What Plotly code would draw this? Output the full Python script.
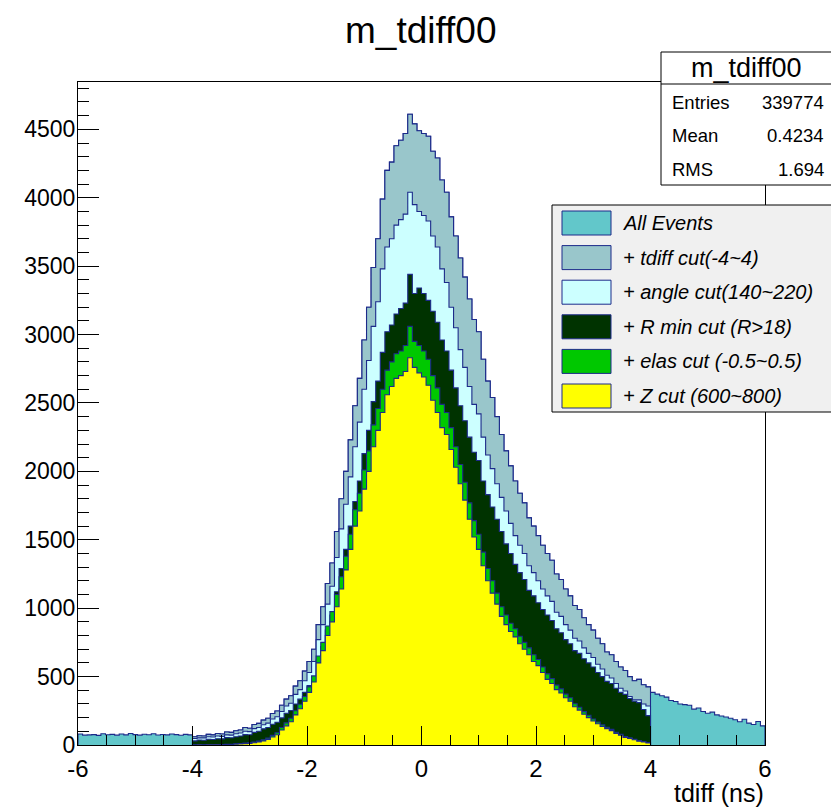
import numpy as np
import plotly.graph_objects as go

# ---------------- data (counts per bin, bin width 0.08 ns) ----------------
bin_width = 0.08
x_min, x_max = -6.0, 6.0
cut_min, cut_max = -4.0, 4.0

# "All Events" outside the tdiff window
all_events_left = [80, 72, 74, 76, 70, 82, 75, 78, 72, 80, 74, 84, 76, 72, 79,
                   75, 82, 73, 77, 74, 80, 76, 71, 78, 74]
all_events_right = [385, 372, 360, 350, 325, 318, 300, 295, 290, 262, 270, 245,
                    232, 240, 220, 212, 205, 196, 185, 170, 188, 160, 150, 172, 140]

# + tdiff cut (-4~4)
tdiff_cut = [60, 68, 66, 78, 74, 84, 80, 95, 92, 104, 110, 128, 122, 150, 158,
             182, 196, 230, 248, 290, 335, 360, 430, 470, 540, 610, 700, 880,
             1010, 1180, 1330, 1560, 1800, 2000, 2230, 2480, 2680, 2960, 3200,
             3490, 3700, 3990, 4200, 4260, 4380, 4420, 4470, 4610, 4540, 4490,
             4470, 4450, 4340, 4290, 4130, 4040, 3860, 3720, 3560, 3420, 3260,
             3110, 3020, 2820, 2660, 2540, 2400, 2270, 2150, 2040, 1930, 1840,
             1770, 1660, 1600, 1530, 1460, 1400, 1350, 1250, 1210, 1140, 1090,
             1020, 990, 930, 880, 840, 780, 740, 680, 660, 610, 570, 545, 500,
             470, 480, 440, 425]

# + angle cut (140~220)
angle_cut = [47, 52, 52, 60, 58, 66, 63, 74, 72, 82, 88, 100, 98, 120, 128, 148,
             160, 190, 206, 245, 285, 305, 370, 405, 470, 530, 610, 770, 880,
             1030, 1160, 1370, 1580, 1760, 1960, 2180, 2360, 2600, 2810, 3060,
             3240, 3480, 3640, 3700, 3800, 3840, 3880, 4040, 3950, 3900, 3870,
             3830, 3720, 3640, 3480, 3380, 3200, 3050, 2890, 2760, 2620, 2490,
             2420, 2250, 2120, 2020, 1910, 1810, 1710, 1620, 1530, 1460, 1400,
             1310, 1260, 1200, 1140, 1090, 1050, 970, 940, 880, 840, 780, 760,
             710, 670, 640, 590, 555, 510, 490, 450, 415, 395, 355, 330, 330,
             300, 285]

# + R min cut (R>18)
rmin_cut = [30, 36, 35, 42, 40, 46, 45, 54, 53, 60, 66, 76, 75, 92, 100, 118,
            128, 152, 166, 198, 232, 252, 300, 335, 385, 435, 500, 620, 720,
            840, 950, 1120, 1290, 1430, 1600, 1780, 1930, 2130, 2300, 2510,
            2660, 2870, 3020, 3070, 3150, 3190, 3230, 3440, 3300, 3340, 3300,
            3250, 3170, 3090, 2960, 2880, 2740, 2610, 2480, 2370, 2250, 2140,
            2080, 1930, 1830, 1740, 1650, 1560, 1470, 1400, 1320, 1260, 1210,
            1130, 1090, 1040, 990, 950, 910, 850, 820, 770, 740, 690, 670, 630,
            600, 570, 530, 500, 465, 450, 415, 385, 370, 340, 320, 310, 260, 215]

# + elas cut (-0.5~0.5)
elas_cut = [1, 2, 1, 3, 2, 4, 4, 5, 6, 8, 10, 14, 16, 21, 28, 38, 50, 70, 90,
            128, 162, 195, 250, 298, 355, 425, 505, 650, 750, 870, 975, 1100,
            1230, 1380, 1540, 1720, 1840, 2010, 2150, 2340, 2460, 2600, 2740,
            2800, 2860, 2880, 2920, 3060, 2950, 2920, 2880, 2820, 2700, 2610,
            2490, 2430, 2320, 2180, 2050, 1920, 1770, 1640, 1540, 1410, 1290,
            1200, 1110, 1010, 950, 890, 850, 795, 750, 710, 660, 625, 570, 520,
            485, 438, 410, 372, 345, 302, 276, 244, 217, 190, 168, 147, 130,
            114, 93, 79, 61, 53, 42, 32, 25, 18]

# + Z cut (600~800)
z_cut = [0, 1, 0, 2, 1, 2, 3, 3, 4, 6, 7, 10, 12, 16, 22, 30, 40, 58, 75, 110,
         140, 170, 220, 265, 320, 385, 460, 600, 690, 800, 900, 1010, 1140,
         1280, 1430, 1600, 1710, 1870, 2000, 2180, 2300, 2430, 2560, 2620,
         2680, 2700, 2730, 2830, 2760, 2720, 2690, 2630, 2520, 2430, 2320,
         2270, 2160, 2030, 1910, 1790, 1650, 1520, 1430, 1310, 1200, 1110,
         1030, 940, 880, 830, 790, 740, 700, 660, 610, 580, 530, 480, 450,
         405, 380, 345, 320, 280, 255, 225, 200, 175, 155, 135, 120, 105, 85,
         72, 55, 48, 38, 28, 22, 15]

series_names = ["All Events", "+ tdiff cut(-4~4)", "+ angle cut(140~220)",
                "+ R min cut (R>18)", "+ elas cut (-0.5~0.5)", "+ Z cut (600~800)"]
series_colors = ["#62c7ca", "#99c6cb", "#ccffff", "#003300", "#00c800", "#ffff00"]
outline_color = "#1c2a8a"

x_tick_values = [-6, -4, -2, 0, 2, 4, 6]
x_tick_labels = ["-6", "-4", "-2", "0", "2", "4", "6"]

stats_title = "m_tdiff00"
stats_rows = [("Entries", "339774"), ("Mean", "0.4234"), ("RMS", "1.694")]

y_max = 4846
FONT = "Liberation Sans, Arial, Helvetica, sans-serif"

# ---------------- figure ----------------
W, H = 831, 807
ML, MR, MT, MB = 78, 66, 82, 62
PW, PH = W - ML - MR, H - MT - MB


def px(xp):
    return (xp - ML) / PW


def py(yp):
    return (H - MB - yp) / PH


def step_xy(edges, vals):
    xs = [edges[0]] + list(edges) + [edges[-1]]
    ys = [0] + list(vals) + [vals[-1], 0]
    return xs, ys


n_all = int(round((x_max - x_min) / bin_width))
n_cut = int(round((cut_max - cut_min) / bin_width))
edges_all = np.linspace(x_min, x_max, n_all + 1)
edges_cut = np.linspace(cut_min, cut_max, n_cut + 1)

all_events = all_events_left + tdiff_cut + all_events_right
hists = [(edges_all, all_events), (edges_cut, tdiff_cut), (edges_cut, angle_cut),
         (edges_cut, rmin_cut), (edges_cut, elas_cut), (edges_cut, z_cut)]

fig = go.Figure()
for (edges, vals), name, col in zip(hists, series_names, series_colors):
    xs, ys = step_xy(edges, vals)
    fig.add_trace(go.Scatter(x=xs, y=ys, mode="lines", line_shape="hv",
                             fill="toself", fillcolor=col,
                             line=dict(color=outline_color, width=1.1),
                             name=name, showlegend=False, hoverinfo="skip"))

axis_common = dict(showline=True, linecolor="black", linewidth=1, mirror=True,
                   ticks="inside", tickcolor="black", tickwidth=1,
                   showgrid=False, zeroline=False,
                   layer="above traces")

fig.update_xaxes(range=[x_min, x_max], tickmode="array",
                 tickvals=x_tick_values, ticktext=x_tick_labels, ticklen=19,
                 minor=dict(ticks="inside", ticklen=10, dtick=0.5, tick0=-6,
                            tickcolor="black", tickwidth=1, showgrid=False),
                 tickfont=dict(family=FONT, size=24, color="black"),
                 ticklabelstandoff=2, **axis_common)
fig.update_yaxes(range=[0, y_max], tick0=0, dtick=500, ticklen=21,
                 minor=dict(ticks="inside", ticklen=11, dtick=100, tick0=0,
                            tickcolor="black", tickwidth=1, showgrid=False),
                 tickfont=dict(family=FONT, size=23, color="black"),
                 ticklabelstandoff=-3, **axis_common)

shapes = []
annotations = []

# title
annotations.append(dict(x=px(421), y=py(30), xref="paper", yref="paper",
                        text=stats_title, showarrow=False,
                        font=dict(family=FONT, size=37, color="black"),
                        xanchor="center", yanchor="middle"))
# x-axis title
annotations.append(dict(x=px(766), y=py(793), xref="paper", yref="paper",
                        text="tdiff (ns)", showarrow=False,
                        font=dict(family=FONT, size=25, color="black"),
                        xanchor="right", yanchor="middle"))

# stats box
shapes.append(dict(type="rect", xref="paper", yref="paper",
                   x0=px(661), x1=px(845), y0=py(52), y1=py(185),
                   fillcolor="white", line=dict(color="black", width=1),
                   layer="above"))
shapes.append(dict(type="line", xref="paper", yref="paper",
                   x0=px(661), x1=px(845), y0=py(84), y1=py(84),
                   line=dict(color="black", width=1), layer="above"))
annotations.append(dict(x=px(746), y=py(68), xref="paper", yref="paper",
                        text=stats_title, showarrow=False,
                        font=dict(family=FONT, size=27, color="black"),
                        xanchor="center", yanchor="middle"))
for k, (lab, val) in enumerate(stats_rows):
    yc = 102 + 33.5 * k
    annotations.append(dict(x=px(670), y=py(yc), xref="paper", yref="paper",
                            text=lab, showarrow=False,
                            font=dict(family=FONT, size=18.5, color="black"),
                            xanchor="left", yanchor="middle"))
    annotations.append(dict(x=px(826), y=py(yc), xref="paper", yref="paper",
                            text=val, showarrow=False,
                            font=dict(family=FONT, size=18.5, color="black"),
                            xanchor="right", yanchor="middle"))

# legend box
shapes.append(dict(type="rect", xref="paper", yref="paper",
                   x0=px(552), x1=px(845), y0=py(205), y1=py(412),
                   fillcolor="#f0f0f0", line=dict(color="black", width=1),
                   layer="above"))
for k, (name, col) in enumerate(zip(series_names, series_colors)):
    yc = 223 + 34.6 * k
    shapes.append(dict(type="rect", xref="paper", yref="paper",
                       x0=px(562), x1=px(611), y0=py(yc + 12), y1=py(yc - 12),
                       fillcolor=col, line=dict(color=outline_color, width=1),
                       layer="above"))
    annotations.append(dict(x=px(621), y=py(yc), xref="paper", yref="paper",
                            text="<i>" + name + "</i>", showarrow=False,
                            font=dict(family=FONT, size=20, color="black"),
                            xanchor="left", yanchor="middle"))

fig.update_layout(width=W, height=H,
                  margin=dict(l=ML, r=MR, t=MT, b=MB, pad=0),
                  paper_bgcolor="white", plot_bgcolor="white",
                  shapes=shapes, annotations=annotations,
                  showlegend=False)

fig.write_html("out.html")
